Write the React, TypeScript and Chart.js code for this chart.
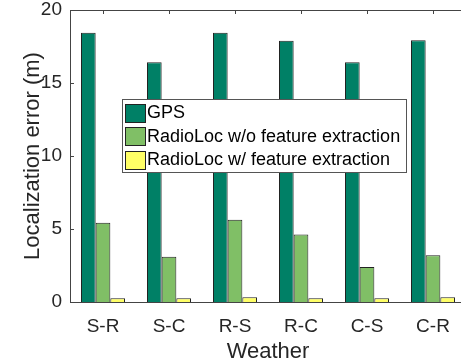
import React, { useEffect, useRef } from "react";
import { Chart, registerables } from "chart.js";

Chart.register(...registerables);

const categories = ["S-R", "S-C", "R-S", "R-C", "C-S", "C-R"];
const gpsError = [18.45, 16.42, 18.45, 17.9, 16.42, 17.93];
const radioLocNoFeature = [5.43, 3.1, 5.63, 4.63, 2.39, 3.2];
const radioLocFeature = [0.26, 0.26, 0.33, 0.26, 0.26, 0.33];
const seriesLabels = [
  "GPS",
  "RadioLoc w/o feature extraction",
  "RadioLoc w/ feature extraction",
];
const seriesColors = ["#008066", "#80BF66", "#FFFF66"];
const yTicks = [0, 5, 10, 15, 20];

const FONT = "'Liberation Sans', Arial, Helvetica, sans-serif";

const axesPlugin = {
  id: "matlabAxes",
  beforeDatasetsDraw(chart: any) {
    const { ctx, chartArea } = chart;
    const xs = chart.scales.x;
    const ys = chart.scales.y;
    ctx.save();
    ctx.strokeStyle = "#444";
    ctx.lineWidth = 1;
    ctx.beginPath();
    yTicks.forEach((v) => {
      const py = Math.round(ys.getPixelForValue(v)) + 0.5;
      ctx.moveTo(chartArea.left, py);
      ctx.lineTo(chartArea.left + 4, py);
    });
    categories.forEach((_, i) => {
      const px = Math.round(xs.getPixelForValue(i)) + 0.5;
      ctx.moveTo(px, chartArea.top);
      ctx.lineTo(px, chartArea.top + 4);
      ctx.moveTo(px, chartArea.bottom);
      ctx.lineTo(px, chartArea.bottom - 4);
    });
    ctx.stroke();
    ctx.restore();
  },
  afterDatasetsDraw(chart: any) {
    const { ctx, chartArea } = chart;
    ctx.save();
    ctx.strokeStyle = "#444";
    ctx.lineWidth = 1;
    const l = Math.round(chartArea.left) + 0.5;
    const t = Math.round(chartArea.top) + 0.5;
    const b = Math.round(chartArea.bottom) + 0.5;
    const r = Math.round(chartArea.right) + 0.5;
    ctx.beginPath();
    ctx.moveTo(l, b);
    ctx.lineTo(l, t);
    ctx.lineTo(r, t);
    ctx.lineTo(r, b);
    ctx.lineTo(l, b);
    ctx.stroke();
    ctx.restore();
  },
  afterDraw(chart: any) {
    const { ctx } = chart;
    const box = { x: 122.5, y: 99.5, w: 284, h: 73 };
    ctx.save();
    ctx.fillStyle = "#fff";
    ctx.fillRect(box.x, box.y, box.w, box.h);
    ctx.strokeStyle = "#555";
    ctx.lineWidth = 1;
    ctx.strokeRect(box.x, box.y, box.w, box.h);
    ctx.font = `18px ${FONT}`;
    ctx.textBaseline = "middle";
    ctx.textAlign = "left";
    chart.data.datasets.forEach((ds: any, i: number) => {
      const cy = 112.5 + i * 23.5;
      ctx.fillStyle = ds.backgroundColor;
      ctx.fillRect(125.5, Math.round(cy - 9) + 0.5, 20, 18);
      ctx.strokeStyle = "#222";
      ctx.strokeRect(125.5, Math.round(cy - 9) + 0.5, 20, 18);
      ctx.fillStyle = "#000";
      ctx.fillText(ds.label, 147, cy + 1);
    });
    ctx.restore();
  },
};

export default function App() {
  const ref = useRef<HTMLCanvasElement | null>(null);
  useEffect(() => {
    if (!ref.current) return;
    const seriesData = [gpsError, radioLocNoFeature, radioLocFeature];
    const chart = new Chart(ref.current, {
      type: "bar",
      data: {
        labels: categories,
        datasets: seriesData.map((d, i) => ({
          label: seriesLabels[i],
          data: d,
          backgroundColor: seriesColors[i],
          borderColor: "#222",
          borderWidth: 1,
          categoryPercentage: 0.667,
          barPercentage: 1,
        })),
      },
      options: {
        responsive: false,
        animation: false,
        devicePixelRatio: 1,
        layout: { padding: { left: 0, top: 10, right: 14, bottom: 0 } },
        plugins: {
          legend: { display: false },
          tooltip: { enabled: false },
        },
        scales: {
          x: {
            grid: { display: false },
            border: { display: false },
            ticks: {
              color: "#262626",
              font: { family: FONT, size: 19 },
              padding: 5,
              maxRotation: 0,
            },
            title: {
              display: true,
              text: "Weather",
              color: "#262626",
              font: { family: FONT, size: 22, lineHeight: 1 },
              padding: { top: 0, bottom: -1 },
            },
            afterFit(scale: any) {
              scale.height = 60;
              scale.paddingLeft = 0;
              scale.paddingRight = 0;
            },
          },
          y: {
            min: 0,
            max: 20,
            grid: { display: false, drawTicks: false },
            border: { display: false },
            ticks: {
              stepSize: 5,
              color: "#262626",
              font: { family: FONT, size: 19 },
              padding: 8,
            },
            title: {
              display: true,
              text: "Localization error (m)",
              color: "#262626",
              font: { family: FONT, size: 22, lineHeight: 1 },
              padding: { top: 22, bottom: 0 },
            },
            afterFit(scale: any) {
              scale.width = 70;
              scale.paddingTop = 0;
              scale.paddingBottom = 0;
            },
          },
        },
      },
      plugins: [axesPlugin],
    });
    return () => chart.destroy();
  }, []);
  return (
    <div
      style={{
        position: "fixed",
        left: 0,
        top: 0,
        width: 461,
        height: 362,
        overflow: "hidden",
        background: "#fff",
      }}
    >
      <canvas ref={ref} width={480} height={362} style={{ display: "block" }} />
    </div>
  );
}
